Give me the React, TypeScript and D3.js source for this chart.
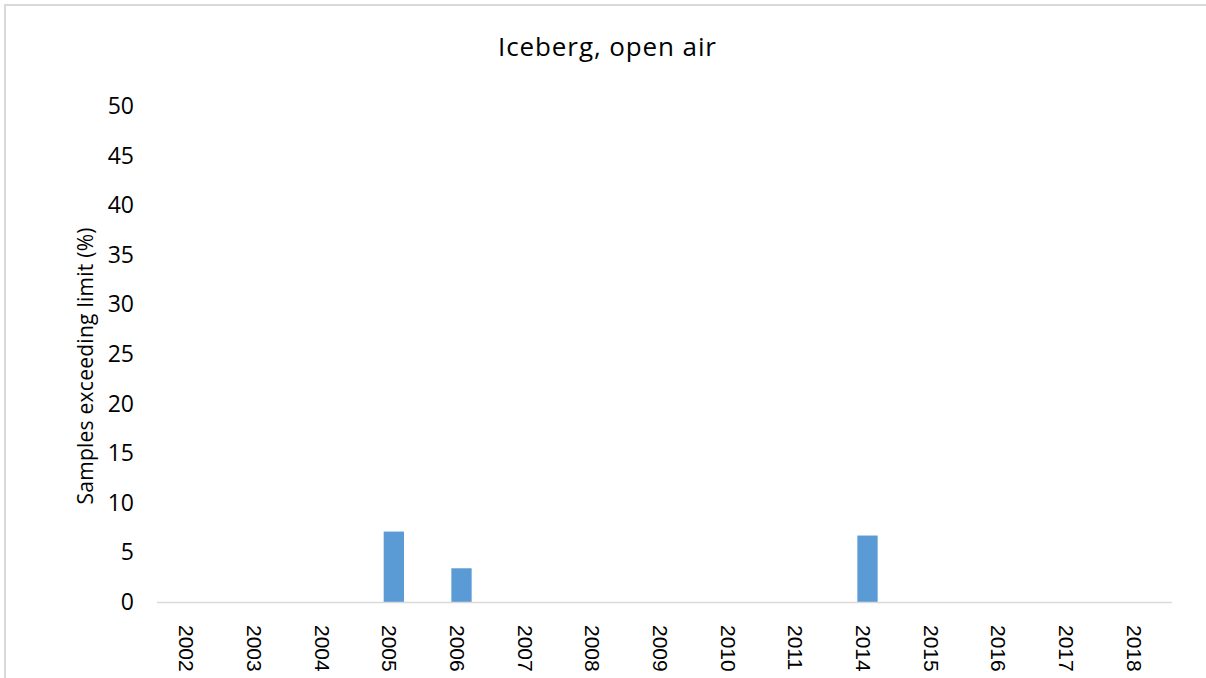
import React, { useEffect, useRef } from 'react'
import * as d3 from 'd3'

const years = ['2002', '2003', '2004', '2005', '2006', '2007', '2008', '2009', '2010', '2011', '2014', '2015', '2016', '2017', '2018']
const exceeding = [0, 0, 0, 7.1, 3.4, 0, 0, 0, 0, 0, 6.7, 0, 0, 0, 0]
const yTicks = [0, 5, 10, 15, 20, 25, 30, 35, 40, 45, 50]

const W = 1206
const H = 678
const margin = { top: 106, right: 34, bottom: 76, left: 157 }
const font = "'Open Sans', 'Noto Sans', sans-serif"
const xFont = "'Liberation Sans', Arial, sans-serif"

export default function App() {
  const ref = useRef<SVGSVGElement>(null)

  useEffect(() => {
    const svg = d3.select(ref.current)
    svg.selectAll('*').remove()

    const width = W - margin.left - margin.right
    const height = H - margin.top - margin.bottom

    // frame of the chart area
    svg.append('path')
      .attr('d', `M5,${H} L5,5 L${W},5`)
      .attr('fill', 'none')
      .attr('stroke', '#d9d9d9')
      .attr('stroke-width', 2)

    svg.append('text')
      .attr('x', 607)
      .attr('y', 47)
      .attr('dy', '0.35em')
      .attr('text-anchor', 'middle')
      .attr('font-family', font)
      .attr('font-size', 26)
      .attr('textLength', 218)
      .attr('fill', '#000')
      .text('Iceberg, open air')

    const g = svg.append('g').attr('transform', `translate(${margin.left},${margin.top})`)

    const x = d3.scaleBand().domain(years).range([0, width]).paddingInner(0.7).paddingOuter(0.35)
    const y = d3.scaleLinear().domain([0, 50]).range([height, 0])

    // y tick labels
    g.append('g')
      .selectAll('text')
      .data(yTicks)
      .enter()
      .append('text')
      .attr('x', -23)
      .attr('y', (d) => y(d))
      .attr('dy', '0.35em')
      .attr('text-anchor', 'end')
      .attr('font-family', font)
      .attr('font-size', 23)
      .attr('fill', '#000')
      .text((d) => d)

    g.selectAll('rect')
      .data(exceeding)
      .enter()
      .append('rect')
      .attr('x', (d, i) => x(years[i])!)
      .attr('y', (d) => y(d))
      .attr('width', x.bandwidth())
      .attr('height', (d) => height - y(d))
      .attr('fill', '#5b9bd5')

    g.append('line')
      .attr('x1', 0)
      .attr('x2', width)
      .attr('y1', height + 0.5)
      .attr('y2', height + 0.5)
      .attr('stroke', '#d9d9d9')
      .attr('stroke-width', 1.5)

    // x labels rotated, reading downward
    g.append('g')
      .selectAll('text')
      .data(years)
      .enter()
      .append('text')
      .attr('transform', (d) => `translate(${x(d)! + x.bandwidth() / 2 - 4},${height + 23}) rotate(90)`)
      .attr('dy', '0.35em')
      .attr('text-anchor', 'start')
      .attr('font-family', xFont)
      .attr('font-size', 21)
      .attr('fill', '#000')
      .text((d) => d)

    svg.append('text')
      .attr('transform', `translate(86,${margin.top + height / 2 + 12}) rotate(-90)`)
      .attr('text-anchor', 'middle')
      .attr('dy', '0.35em')
      .attr('font-family', font)
      .attr('font-size', 21)
      .attr('textLength', 277)
      .attr('fill', '#000')
      .text('Samples exceeding limit (%)')
  }, [])

  return (
    <svg ref={ref} width={W} height={H} style={{ position: 'absolute', left: 0, top: 0, background: '#fff' }} />
  )
}
